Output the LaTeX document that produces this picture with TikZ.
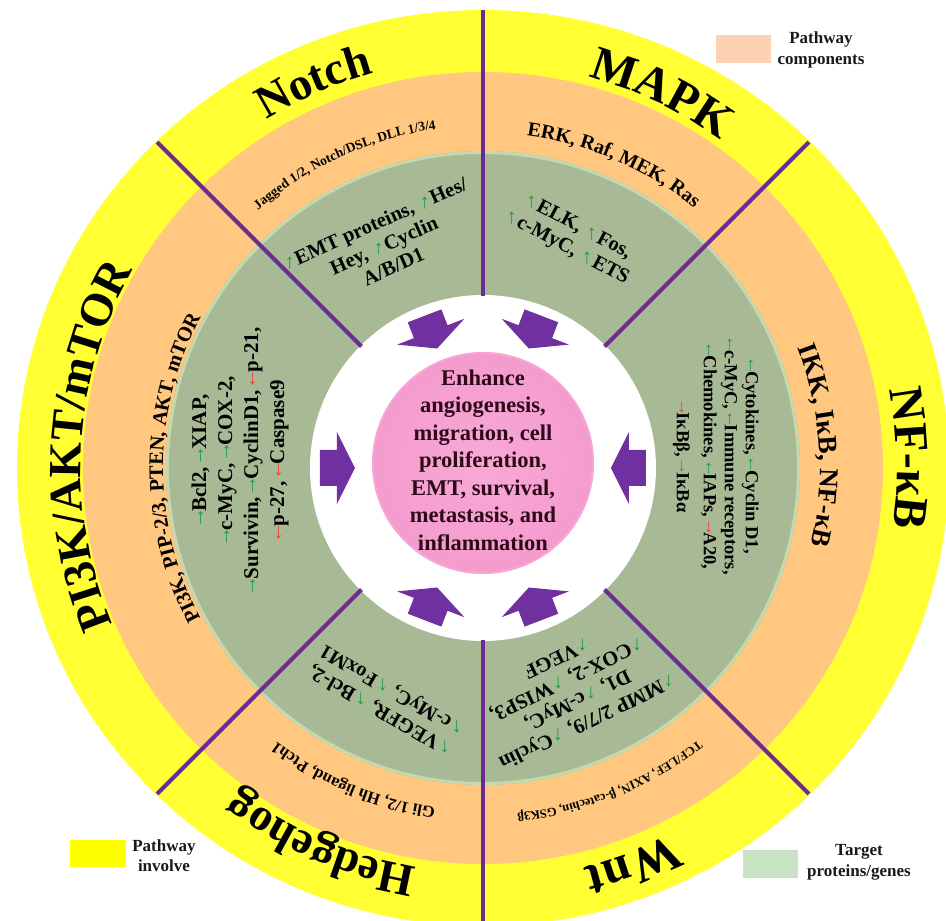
\documentclass[tikz,border=0pt]{standalone}
\usepackage{fontspec}
\setmainfont{Liberation Serif}
\usepackage{graphicx}
\usetikzlibrary{decorations.text}
\definecolor{ringyellow}{HTML}{FFFF33}
\definecolor{ringorange}{HTML}{FFC77F}
\definecolor{ringgreen}{HTML}{A7B995}
\definecolor{greenedge}{HTML}{C5D9AE}
\definecolor{linepurple}{HTML}{6A2C91}
\definecolor{arrowpurple}{HTML}{7030A0}
\definecolor{pinkfill}{HTML}{F59BCE}
\definecolor{pinkin}{HTML}{F7A9D6}
\definecolor{agreen}{HTML}{1E9E48}
\definecolor{ared}{HTML}{E8473C}
\definecolor{legpeach}{HTML}{FDD1B3}
\definecolor{leggreen}{HTML}{C9E3C4}
\definecolor{legyellow}{HTML}{FFFF00}
\definecolor{centertext}{HTML}{2E0A18}
\newcommand\arrrot{0}
\newcommand\ua{\textcolor{agreen}{\rotatebox[origin=c]{\arrrot}{↑}}}
\newcommand\da{\textcolor{ared}{\rotatebox[origin=c]{\arrrot}{↓}}}
\newcommand\pathlabel[5]{%
  \path[decorate,decoration={text along path,text align=center,
     text={|\fontsize{#4}{#4}\selectfont\bfseries|#5}}]
     ({#1+#2}:#3pt) arc[start angle={#1+#2},end angle={#1-#2},radius=#3pt];}
\tikzset{
  greentxt/.style={font=\bfseries\fontsize{20.5}{23.5}\selectfont, align=center, text=black, inner sep=0pt},
  legtxt/.style={font=\bfseries\fontsize{17}{20.5}\selectfont, align=center, text=black!90},
  divline/.style={draw=linepurple, line width=4pt},
  legbox/.style={minimum width=55pt, minimum height=28pt, inner sep=0pt},
  coretxt/.style={font=\bfseries\fontsize{22.5}{27.5}\selectfont, text=centertext, align=center}
}
\begin{document}
\begin{tikzpicture}[x=1pt,y=1pt]
\useasboundingbox (-483pt,-453pt) rectangle (463pt,468pt);
\fill[white] (-483pt,-453pt) rectangle (463pt,468pt);
% rings
\fill[ringyellow] (0,0) ellipse[x radius=466pt, y radius=458pt];
\fill[ringorange] (0,0) ellipse[x radius=400pt, y radius=396pt];
\fill[ringgreen] (0,0) circle[radius=317pt];
\draw[greenedge, line width=3pt] (0,0) circle[radius=315.5pt];
\fill[white] (0,0) circle[radius=173pt];
\shade[inner color=pinkin, outer color=pinkfill] (0,5pt) circle[radius=111pt];
\draw[pinkin, line width=1.5pt] (0,5pt) circle[radius=110pt];
% dividers
\foreach \a/\r in {45/461,90/458,135/461,225/461,270/458,315/461}
  \draw[divline] (\a:172pt) -- (\a:\r pt);
% block arrows
\foreach \a in {0,69,111,180,249,291}
  \fill[arrowpurple, rotate=\a] (163pt,18pt) -- (146pt,18pt) -- (146pt,36pt) -- (128pt,0pt) -- (146pt,-36pt) -- (146pt,-18pt) -- (163pt,-18pt) -- cycle;
% outer labels
\pathlabel{113.7}{40}{410}{46}{Notch}
\pathlabel{64.5}{40}{405}{48}{MAPK}
\pathlabel{1.3}{40}{414}{48}{NF-κB}
\pathlabel{176.7}{40}{402}{46}{PI3K/AKT/mTOR}
\pathlabel{246.7}{40}{405}{46}{Hedgehog}
\pathlabel{290.7}{40}{412}{50}{Wnt}
% orange ring labels
\pathlabel{114.5}{45}{342}{13.5}{Jagged 1/2, Notch/DSL, DLL 1/3/4}
\pathlabel{66.7}{45}{335}{20}{ERK, Raf, MEK, Ras}
\pathlabel{3.8}{45}{337}{27}{IKK, IκB, NF-κB}
\pathlabel{180}{45}{320}{20.5}{PI3K, PIP-2/3, PTEN, AKT, mTOR}
\pathlabel{247.5}{45}{343}{16.5}{Gli 1/2, Hh ligand, Ptch1}
\pathlabel{292}{45}{347}{12.5}{TCF/LEF, AXIN, β-catechin, GSK3β}
% green ring texts
\node[greentxt, rotate=24, execute at begin node={\def\arrrot{-24}}] (notchT) at (114:244pt)
  {\ua EMT proteins, \ua Hes/\\Hey, \ua Cyclin\\A/B/D1};
\node[greentxt, rotate=-28, execute at begin node={\def\arrrot{28}}] (mapkT) at (69:247pt)
  {\ua ELK, \ua Fos,\\\ua c-MyC, \ua ETS};
\node[greentxt, font=\bfseries\fontsize{18.5}{21}\selectfont, rotate=-90, execute at begin node={\def\arrrot{90}}] (nfkbT) at (2.7:233pt)
  {\ua Cytokines, \ua Cyclin D1,\\\ua c-MyC, \ua Immune receptors,\\\ua Chemokines, \ua IAPs, \da A20,\\[6pt]\da IκBβ, \da IκBα};
\node[greentxt, font=\bfseries\fontsize{21}{26}\selectfont, rotate=90, execute at begin node={\def\arrrot{-90}}] (pi3kT) at (178:243pt)
  {\ua Bcl2, \ua XIAP,\\\ua c-MyC, \ua COX-2,\\\ua Survivin, \ua CyclinD1, \da p-21,\\\da p-27, \da Caspase9};
\node[greentxt, rotate=150, execute at begin node={\def\arrrot{30}}] (hhT) at (247.5:251pt)
  {\ua VEGFR, \ua Bcl-2,\\\ua c-MyC, \ua FoxM1};
\node[greentxt, rotate=206, execute at begin node={\def\arrrot{-26}}] (wntT) at (292:239pt)
  {\ua MMP 2/7/9, \ua Cyclin\\D1, \ua c-MyC,\\\ua COX-2, \ua WISP3,\\\ua VEGF};
% center
\node[coretxt] (core) at (0,8pt) {Enhance\\angiogenesis,\\migration, cell\\proliferation,\\EMT, survival,\\metastasis, and\\inflammation};
% legends
\node[legbox, fill=legpeach] (lpc) at (260.5pt,419pt) {};
\node[legtxt] (lpcT) at (338pt,418pt) {Pathway\\components};
\node[legbox, fill=legyellow, minimum width=56pt, minimum height=27pt] (lpi) at (-385pt,-385.5pt) {};
\node[legtxt] (lpiT) at (-319pt,-387.5pt) {Pathway\\involve};
\node[legbox, fill=leggreen] (ltg) at (287.5pt,-396pt) {};
\node[legtxt] (ltgT) at (376pt,-394.5pt) {Target\\proteins/genes};
\end{tikzpicture}
\end{document}
